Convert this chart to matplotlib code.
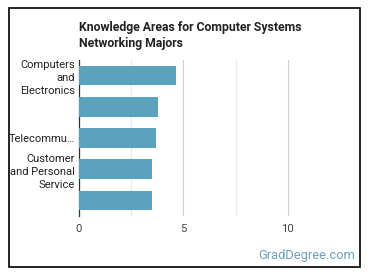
import matplotlib
matplotlib.use('Agg')
from matplotlib import pyplot as plt
from matplotlib.patches import Rectangle

plt.rcParams['font.family'] = ['Roboto', 'DejaVu Sans']

# chart data
categories = ['Computers\nand\nElectronics', '', 'Telecommu…',
              'Customer\nand Personal\nService', '']
values = [4.64, 3.80, 3.71, 3.52, 3.52]
x_ticks = [0, 5, 10]

fig = plt.figure(figsize=(3.7, 2.78), dpi=100)
W, H = 370, 278

# outer black frame
fig.patches.append(Rectangle((8.5 / W, 1 - 266.5 / H), 351 / W, 258.5 / H,
                             transform=fig.transFigure, fill=False,
                             edgecolor='black', linewidth=1.2))

ax = fig.add_axes([79 / W, 1 - 216 / H, (341 - 79) / W, (216 - 60) / H])
y = list(range(len(values)))
ax.barh(y, values, height=0.63, color='#5aa2bd', zorder=3)
ax.set_ylim(len(values) - 0.5, -0.5)
ax.set_xlim(0, 12.55)

ax.set_xticks(x_ticks)
ax.xaxis.grid(True, color='#d0d0d0', linewidth=0.8, zorder=0)
ax.set_xticks([2.5, 7.5], minor=True)
ax.xaxis.grid(True, which='minor', color='#e8e8e8', linewidth=0.8, zorder=0)
ax.set_xticklabels([str(t) for t in x_ticks], fontsize=8.2, color='#444444')
ax.tick_params(axis='x', length=0, pad=6)
ax.tick_params(axis='x', which='minor', length=0)

ax.set_yticks(y)
ax.set_yticklabels(categories, fontsize=8.0, color='#222222', linespacing=1.4)
ax.tick_params(axis='y', length=0, pad=3)

for side in ['top', 'right', 'bottom']:
    ax.spines[side].set_visible(False)
ax.spines['left'].set_color('#333333')
ax.spines['left'].set_linewidth(0.9)

fig.text(79 / W, 1 - 21 / H, 'Knowledge Areas for Computer Systems\nNetworking Majors',
         fontsize=8.8, fontweight='bold', color='#222222', ha='left', va='top',
         linespacing=1.25)
fig.text(355 / W, 1 - 256 / H, 'GradDegree.com', fontsize=9.3, color='#6d9fbf',
         ha='right', va='center')

fig.savefig('out.png', dpi=100)
